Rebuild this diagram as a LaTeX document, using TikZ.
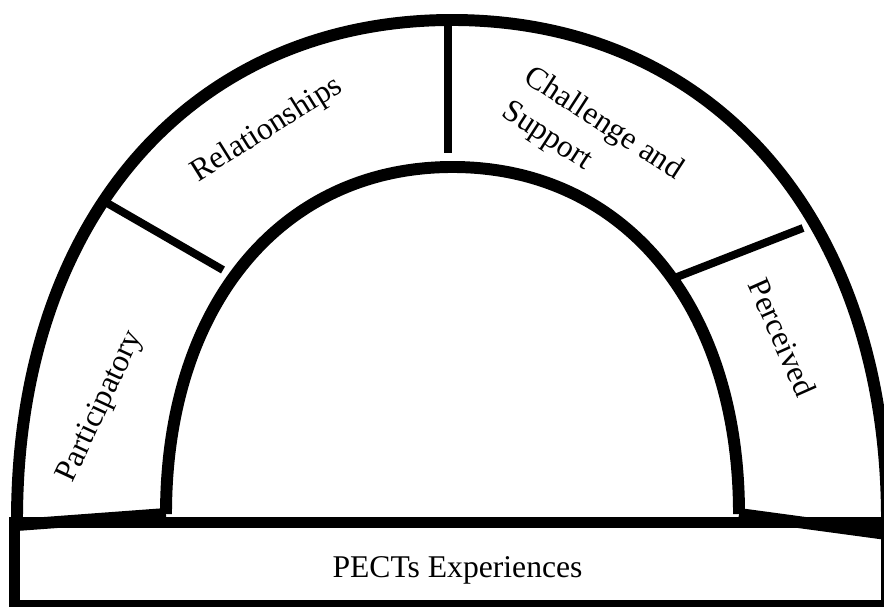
\documentclass[tikz,border=0pt]{standalone}
\usepackage{fontspec}
\setmainfont{Liberation Serif}
\usepackage{tikz}

\begin{document}
\begin{tikzpicture}[x=0.02cm,y=0.02cm,
  band/.style={line width=6.8pt},
  divider/.style={line width=4.5pt},
  lbl/.style={font=\fontsize{18}{23.5}\selectfont,inner sep=0pt}]
\useasboundingbox (0,0) rectangle (884,607);
\clip (0,0) rectangle (884,607);

% base box
\draw[band] (14.5,1) rectangle (887,84.5);
\node[lbl] (base) at (457.5,37) {PECTs Experiences};

% outer and inner arch
\coordinate (outL) at (17,87);
\coordinate (outT) at (452,587);
\coordinate (outR) at (887,87);
\coordinate (inL) at (166,93);
\coordinate (inT) at (452.5,440);
\coordinate (inR) at (739,93);
\draw[band] (outL) .. controls (17,387) and (191,587) .. (outT)
                   .. controls (713,587) and (887,387) .. (outR);
\draw[band] (inL) .. controls (166,301) and (281,440) .. (inT)
                  .. controls (624,440) and (739,301) .. (inR);
\draw[band] (outL) ++(0,-5) -- (inL);
\draw[band] (inR) -- ([yshift=-8]outR);

% dividers
\draw[divider] (448,582) -- (448,454);
\draw[divider] (107,404) -- (223,337);
\draw[divider] (803,379) -- (677,330);

% labels
\node[lbl,rotate=65] (part) at (101,200) {Participatory};
\node[lbl,rotate=32] (rel) at (267,477) {Relationships};
\node[lbl,rotate=-33,align=left] (chal) at (592,465.5) {Challenge and\\Support};
\node[lbl,rotate=-66] (perc) at (782.5,269.5) {Perceived};
\end{tikzpicture}
\end{document}
